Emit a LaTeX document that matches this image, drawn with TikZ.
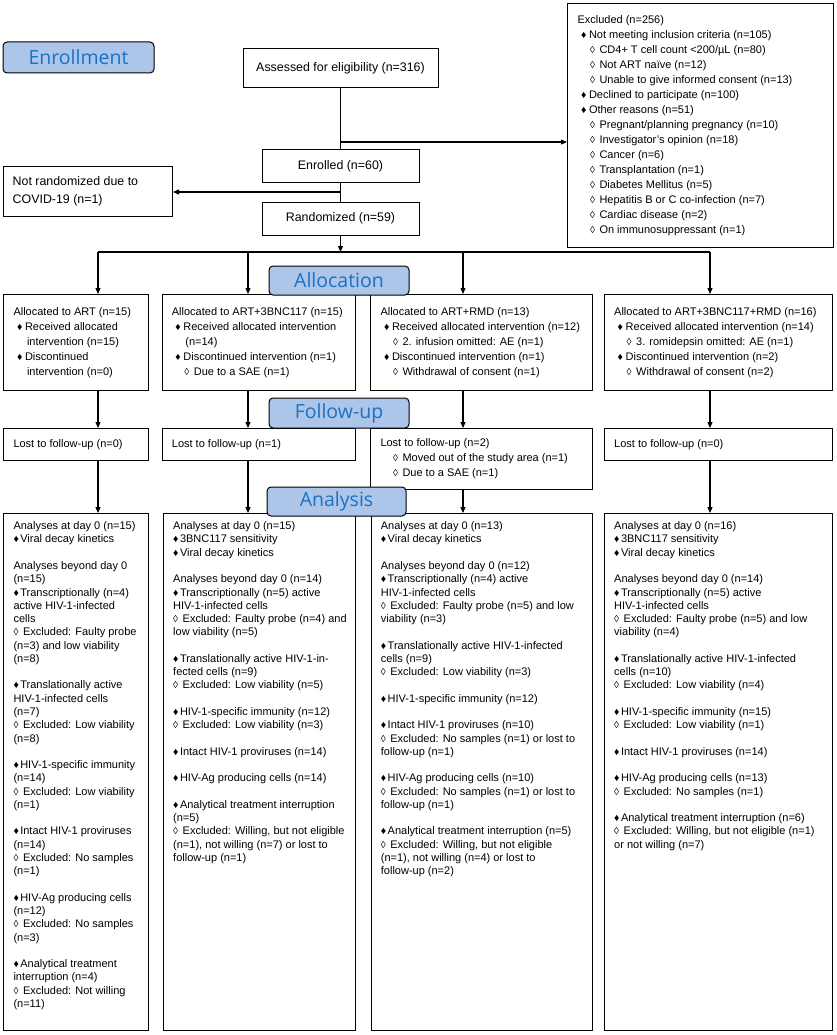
\documentclass[tikz,border=0pt]{standalone}
\usepackage{fontspec}
\setmainfont{Liberation Sans}
\newfontfamily\hdrfont{Open Sans}
\usepackage{xcolor}
\usepackage{tikz}
\usetikzlibrary{arrows.meta,positioning}
\definecolor{hdrfill}{RGB}{172,197,232}
\definecolor{hdrtext}{RGB}{27,114,196}
\tikzset{box/.style={draw, line width=1pt, inner sep=0pt, anchor=north west},
flow/.style={draw, line width=1pt, font=\fontsize{12.4}{18.3}\selectfont},
flowtxt/.style={align=left, inner sep=0pt, font=\fontsize{12.4}{18.3}\selectfont},
txt/.style={align=left, inner sep=0pt, font=\fontsize{11}{15}\selectfont},
antxt/.style={align=left, inner sep=0pt, font=\fontsize{11}{13.27}\selectfont},
phase/.style={draw, line width=1pt, rounded corners=4pt, fill=hdrfill, text=hdrtext, inner sep=0pt, font=\hdrfont\fontsize{19.5}{19.5}\selectfont},
link/.style={line width=1.1pt},
>={Triangle[length=6pt,width=5pt]}}
%bullets used in the boxes
\newcommand{\dmdf}{{\fontsize{10.5}{10.5}\selectfont ♦}}
\newcommand{\dmdo}{{\fontsize{10}{10}\selectfont ◊}}
\newcommand{\bulA}[1]{\hspace*{3.5pt}\makebox[8pt][l]{\dmdf}#1}
\newcommand{\bulB}[1]{\hspace*{12.5pt}\makebox[9.5pt][l]{\dmdo}#1}
\newcommand{\bulC}[1]{\hspace*{13.5pt}#1}
\newcommand{\anF}{\makebox[6.8pt][l]{\dmdf}}
\newcommand{\anO}{\makebox[9.5pt][l]{\dmdo}}
\begin{document}
\begin{tikzpicture}[x=1pt,y=-1pt]
  \useasboundingbox (0,0) rectangle (837,1035);

  % enrollment part
  \node[flow, minimum width=195pt, minimum height=39pt] (assess) at (340.5,68.5) {Assessed for eligibility (n=316)};
  \node[flow, minimum width=157pt, minimum height=33pt] (enrol) at (340.5,166.5) {Enrolled (n=60)};
  \node[flow, minimum width=157pt, minimum height=33pt] (rand) at (340.5,218.5) {Randomized (n=59)};

  \node[box, minimum width=169pt, minimum height=50pt] (notrand) at (3,166) {};
  \node[flowtxt, right=9.5pt of notrand.west] (notrandt) {Not randomized due to\\COVID-19 (n=1)};

  \node[box, minimum width=266pt, minimum height=244pt] (excl) at (567,3) {};
  \node[txt, right=10.3pt of excl.west] (exclt) {Excluded (n=256)\\
    \bulA{Not meeting inclusion criteria (n=105)}\\
    \bulB{CD4+ T cell count <200/µL (n=80)}\\
    \bulB{Not ART naïve (n=12)}\\
    \bulB{Unable to give informed consent (n=13)}\\
    \bulA{Declined to participate (n=100)}\\
    \bulA{Other reasons (n=51)}\\
    \bulB{Pregnant/planning pregnancy (n=10)}\\
    \bulB{Investigator’s opinion (n=18)}\\
    \bulB{Cancer (n=6)}\\
    \bulB{Transplantation (n=1)}\\
    \bulB{Diabetes Mellitus (n=5)}\\
    \bulB{Hepatitis B or C co-infection (n=7)}\\
    \bulB{Cardiac disease (n=2)}\\
    \bulB{On immunosuppressant (n=1)}};

  \coordinate (b1) at (340.5,142);
  \coordinate (b2) at (340.5,192);
  \coordinate (s1) at (98,252);
  \coordinate (s2) at (248,252);
  \coordinate (s3) at (463,252);
  \coordinate (s4) at (710,252);

  % allocation boxes
  \node[box, minimum width=145pt, minimum height=96pt] (a1) at (3,294) {};
  \node[box, minimum width=193pt, minimum height=96pt] (a2) at (162,294) {};
  \node[box, minimum width=222pt, minimum height=96pt] (a3) at (370,294) {};
  \node[box, minimum width=228pt, minimum height=96pt] (a4) at (604,294) {};

  \node[txt, right=10.3pt of a1.west] (a1t) {Allocated to ART (n=15)\\
    \bulA{Received allocated}\\ \bulC{intervention (n=15)}\\
    \bulA{Discontinued}\\ \bulC{intervention (n=0)}};
  \node[txt, right=9.7pt of a2.west] (a2t) {Allocated to ART+3BNC117 (n=15)\\
    \bulA{Received allocated intervention}\\ \bulC{(n=14)}\\
    \bulA{Discontinued intervention (n=1)}\\
    \bulB{Due to a SAE (n=1)}};
  \node[txt, right=10.3pt of a3.west] (a3t) {Allocated to ART+RMD (n=13)\\
    \bulA{Received allocated intervention (n=12)}\\
    \bulB{2. infusion omitted: AE (n=1)}\\
    \bulA{Discontinued intervention (n=1)}\\
    \bulB{Withdrawal of consent (n=1)}};
  \node[txt, right=10pt of a4.west] (a4t) {Allocated to ART+3BNC117+RMD (n=16)\\
    \bulA{Received allocated intervention (n=14)}\\
    \bulB{3. romidepsin omitted: AE (n=1)}\\
    \bulA{Discontinued intervention (n=2)}\\
    \bulB{Withdrawal of consent (n=2)}};

  % follow-up boxes
  \node[box, minimum width=145pt, minimum height=32pt] (f1) at (3,428) {};
  \node[box, minimum width=193pt, minimum height=32pt] (f2) at (162,428) {};
  \node[box, minimum width=222pt, minimum height=61pt] (f3) at (370,428) {};
  \node[box, minimum width=228pt, minimum height=32pt] (f4) at (604,428) {};

  \node[txt, right=10.3pt of f1.west] (f1t) {Lost to follow-up (n=0)};
  \node[txt, right=9.7pt of f2.west] (f2t) {Lost to follow-up (n=1)};
  \node[txt, right=10.3pt of f3.west] (f3t) {Lost to follow-up (n=2)\\
    \bulB{Moved out of the study area (n=1)}\\
    \bulB{Due to a SAE (n=1)}};
  \node[txt, right=10pt of f4.west] (f4t) {Lost to follow-up (n=0)};

  % analysis boxes
  \node[box, minimum width=145pt, minimum height=517pt] (n1) at (3,513) {};
  \node[box, minimum width=192pt, minimum height=517pt] (n2) at (163,513) {};
  \node[box, minimum width=221pt, minimum height=517pt] (n3) at (371,513) {};
  \node[box, minimum width=228pt, minimum height=517pt] (n4) at (604,513) {};

  \node[antxt, below right=8.5pt and 10.3pt of n1.north west] (n1t) {Analyses at day 0 (n=15)\\
    \anF Viral decay kinetics\\[13.27pt]
    Analyses beyond day 0\\ (n=15)\\
    \anF Transcriptionally (n=4)\\ active HIV-1-infected\\ cells\\
    \anO Excluded: Faulty probe\\ (n=3) and low viability\\ (n=8)\\[13.27pt]
    \anF Translationally active\\ HIV-1-infected cells\\ (n=7)\\
    \anO Excluded: Low viability\\ (n=8)\\[13.27pt]
    \anF HIV-1-specific immunity\\ (n=14)\\
    \anO Excluded: Low viability\\ (n=1)\\[13.27pt]
    \anF Intact HIV-1 proviruses\\ (n=14)\\
    \anO Excluded: No samples\\ (n=1)\\[13.27pt]
    \anF HIV-Ag producing cells\\ (n=12)\\
    \anO Excluded: No samples\\ (n=3)\\[13.27pt]
    \anF Analytical treatment\\ interruption (n=4)\\
    \anO Excluded: Not willing\\ (n=11)};
  \node[antxt, below right=8.5pt and 10pt of n2.north west] (n2t) {Analyses at day 0 (n=15)\\
    \anF 3BNC117 sensitivity\\
    \anF Viral decay kinetics\\[13.27pt]
    Analyses beyond day 0 (n=14)\\
    \anF Transcriptionally (n=5) active\\ HIV-1-infected cells\\
    \anO Excluded: Faulty probe (n=4) and\\ low viability (n=5)\\[13.27pt]
    \anF Translationally active HIV-1-in-\\ fected cells (n=9)\\
    \anO Excluded: Low viability (n=5)\\[13.27pt]
    \anF HIV-1-specific immunity (n=12)\\
    \anO Excluded: Low viability (n=3)\\[13.27pt]
    \anF Intact HIV-1 proviruses (n=14)\\[13.27pt]
    \anF HIV-Ag producing cells (n=14)\\[13.27pt]
    \anF Analytical treatment interruption\\ (n=5)\\
    \anO Excluded: Willing, but not eligible\\ (n=1), not willing (n=7) or lost to\\ follow-up (n=1)};
  \node[antxt, below right=8.5pt and 9.7pt of n3.north west] (n3t) {Analyses at day 0 (n=13)\\
    \anF Viral decay kinetics\\[13.27pt]
    Analyses beyond day 0 (n=12)\\
    \anF Transcriptionally (n=4) active\\ HIV-1-infected cells\\
    \anO Excluded: Faulty probe (n=5) and low\\ viability (n=3)\\[13.27pt]
    \anF Translationally active HIV-1-infected\\ cells (n=9)\\
    \anO Excluded: Low viability (n=3)\\[13.27pt]
    \anF HIV-1-specific immunity (n=12)\\[13.27pt]
    \anF Intact HIV-1 proviruses (n=10)\\
    \anO Excluded: No samples (n=1) or lost to\\ follow-up (n=1)\\[13.27pt]
    \anF HIV-Ag producing cells (n=10)\\
    \anO Excluded: No samples (n=1) or lost to\\ follow-up (n=1)\\[13.27pt]
    \anF Analytical treatment interruption (n=5)\\
    \anO Excluded: Willing, but not eligible\\ (n=1), not willing (n=4) or lost to\\ follow-up (n=2)};
  \node[antxt, below right=8.5pt and 10pt of n4.north west] (n4t) {Analyses at day 0 (n=16)\\
    \anF 3BNC117 sensitivity\\
    \anF Viral decay kinetics\\[13.27pt]
    Analyses beyond day 0 (n=14)\\
    \anF Transcriptionally (n=5) active\\ HIV-1-infected cells\\
    \anO Excluded: Faulty probe (n=5) and low\\ viability (n=4)\\[13.27pt]
    \anF Translationally active HIV-1-infected\\ cells (n=10)\\
    \anO Excluded: Low viability (n=4)\\[13.27pt]
    \anF HIV-1-specific immunity (n=15)\\
    \anO Excluded: Low viability (n=1)\\[13.27pt]
    \anF Intact HIV-1 proviruses (n=14)\\[13.27pt]
    \anF HIV-Ag producing cells (n=13)\\
    \anO Excluded: No samples (n=1)\\[13.27pt]
    \anF Analytical treatment interruption (n=6)\\
    \anO Excluded: Willing, but not eligible (n=1)\\ or not willing (n=7)};

  % connectors
  \draw[link] (assess) -- (enrol);
  \draw[link,->] (b1) -- (b1 -| excl.west);
  \draw[link] (enrol) -- (rand);
  \draw[link,->] (b2) -- (b2 -| notrand.east);
  \draw[link,->] (rand) -- (rand |- s1);
  \draw[link] (s1) -- (s4);
  \foreach \i in {1,...,4} {
    \draw[link,->] (s\i) -- (s\i |- a\i.north);
    \draw[link,->] (s\i |- a\i.south) -- (s\i |- f\i.north);
    \draw[link,->] (s\i |- f\i.south) -- (s\i |- n\i.north);
  }

  % phase headers
  \node[phase, minimum width=151pt, minimum height=31pt] (enrh) at (78.5,57.5) {Enrollment};
  \node[phase, minimum width=140pt, minimum height=29pt] (alloch) at (339,280.5) {Allocation};
  \node[phase, minimum width=140pt, minimum height=30pt] (fuh) at (339,413) {Follow-up};
  \node[phase, minimum width=139pt, minimum height=29pt] (anh) at (336.5,501.5) {Analysis};
\end{tikzpicture}
\end{document}
